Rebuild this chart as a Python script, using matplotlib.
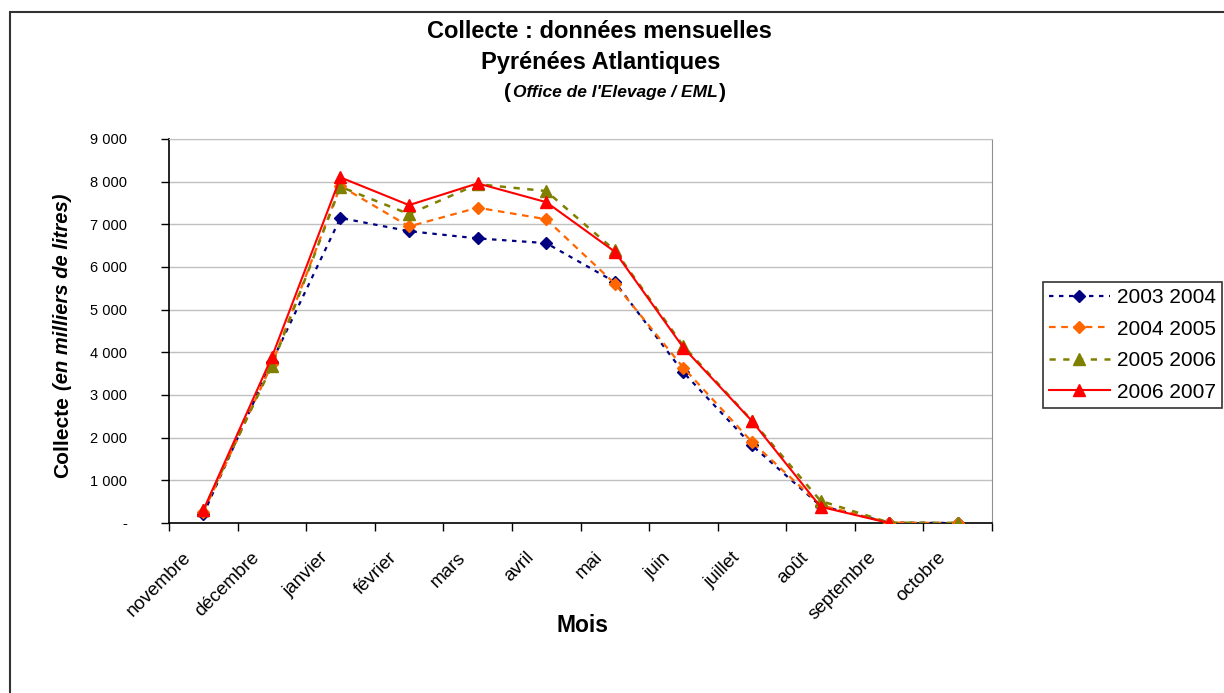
import numpy as np
import matplotlib
matplotlib.use("Agg")
import matplotlib.pyplot as plt
from matplotlib.patches import Rectangle
from matplotlib.ticker import FuncFormatter
from matplotlib.transforms import ScaledTranslation

plt.rcParams['font.family'] = ['Liberation Sans', 'DejaVu Sans']

# donnees
mois = ["novembre", "décembre", "janvier", "février", "mars", "avril",
        "mai", "juin", "juillet", "août", "septembre", "octobre"]
c_2003_2004 = [200, 3780, 7150, 6840, 6670, 6560, 5650, 3530, 1820, 400, 10, 0]
c_2004_2005 = [250, 3720, 7900, 6950, 7390, 7120, 5610, 3640, 1900, 420, 10, 0]
c_2005_2006 = [300, 3680, 7880, 7240, 7940, 7780, 6390, 4150, 2400, 520, 10, 0]
c_2006_2007 = [300, 3890, 8100, 7450, 7960, 7520, 6360, 4110, 2390, 380, 0, np.nan]
series = ["2003 2004", "2004 2005", "2005 2006", "2006 2007"]

W, H = 1224, 693
fig = plt.figure(figsize=(W / 100, H / 100), dpi=100)
ax = fig.add_axes([169 / W, 1 - 523 / H, (992 - 169) / W, (523 - 139) / H])

x = np.arange(len(mois)) + 0.5
ax.plot(x, c_2003_2004, color="#000080", ls=(0, (2, 2.5)), lw=1.6,
        marker="D", ms=6, label=series[0], zorder=3)
ax.plot(x, c_2004_2005, color="#FF6600", ls=(0, (3, 2.5)), lw=1.6,
        marker="D", ms=6, label=series[1], zorder=4)
ax.plot(x, c_2005_2006, color="#808000", ls=(0, (2.5, 3)), lw=1.8,
        marker="^", ms=8, label=series[2], zorder=5)
ax.plot(x, c_2006_2007, color="#FF0000", ls="-", lw=1.5,
        marker="^", ms=8, label=series[3], zorder=6)

ax.set_xlim(0, 12)
ax.set_ylim(0, 9000)
ax.set_yticks(np.arange(0, 9001, 1000))
ax.yaxis.set_major_formatter(FuncFormatter(
    lambda v, p: "-" if v == 0 else f"{int(v):,}".replace(",", " ")))
ax.tick_params(axis="y", direction="out", length=6, width=1, pad=24, labelsize=10.5)

ax.set_xticks(np.arange(0, 13))
ax.set_xticklabels([])
ax.tick_params(axis="x", which="major", direction="out", length=6, width=1)
ax.set_xticks(x, minor=True)
ax.set_xticklabels(mois, minor=True, rotation=45, ha="right",
                   rotation_mode="anchor", fontsize=13.5)
ax.tick_params(axis="x", which="minor", length=0, pad=10)
shift = ScaledTranslation(-21 / 100, -12 / 100, fig.dpi_scale_trans)
for lab in ax.get_xticklabels(minor=True):
    lab.set_transform(lab.get_transform() + shift)

ax.grid(axis="y", color="#c0c0c0", lw=1)
ax.set_axisbelow(True)
for s in ["left", "bottom"]:
    ax.spines[s].set_color("black")
    ax.spines[s].set_linewidth(1.2)
ax.spines["top"].set_color("#c0c0c0")
ax.spines["right"].set_color("#909090")

# titre
fig.text(599 / W, 1 - 32 / H, "Collecte : données mensuelles", ha="center",
         va="center", fontsize=17, fontweight="bold")
fig.text(601 / W, 1 - 62 / H, "Pyrénées Atlantiques", ha="center",
         va="center", fontsize=17, fontweight="bold")
mid = fig.text(615 / W, 1 - 92 / H, "Office de l'Elevage / EML", ha="center",
               va="center", fontsize=12.5, fontweight="bold", style="italic")
r = fig.canvas.get_renderer()
bb = mid.get_window_extent(r)
fig.text(bb.x0 / W - 0.001, 1 - 92 / H, "(", ha="right", va="center",
         fontsize=15, fontweight="bold")
fig.text(bb.x1 / W + 0.001, 1 - 92 / H, ")", ha="left", va="center",
         fontsize=15, fontweight="bold")

# axes labels
fig.text(582 / W, 1 - 625 / H, "Mois", ha="center", va="center",
         fontsize=16.5, fontweight="bold")
fig.text(63 / W, 1 - 478 / H, "Collecte", rotation=90, ha="center",
         va="bottom", fontsize=15, fontweight="bold")
fig.text(63 / W, 1 - 390 / H, "(en milliers de litres)", rotation=90,
         ha="center", va="bottom", fontsize=14.5, fontweight="bold",
         style="italic")

# legende
leg = fig.legend(loc="upper left", bbox_to_anchor=(1043 / W, 1 - 282 / H),
                 borderaxespad=0, fontsize=15, frameon=True, fancybox=False,
                 edgecolor="black", handlelength=2.9, borderpad=0.3,
                 labelspacing=0.6, handletextpad=0.35)
leg.get_frame().set_linewidth(1.2)

# cadre
fig.patches.append(Rectangle((10 / W, -0.1), 1.2, 1 - 12 / H + 0.1,
                             transform=fig.transFigure, fill=False,
                             edgecolor="#333333", lw=1.5))

fig.savefig("out.png", dpi=100)
